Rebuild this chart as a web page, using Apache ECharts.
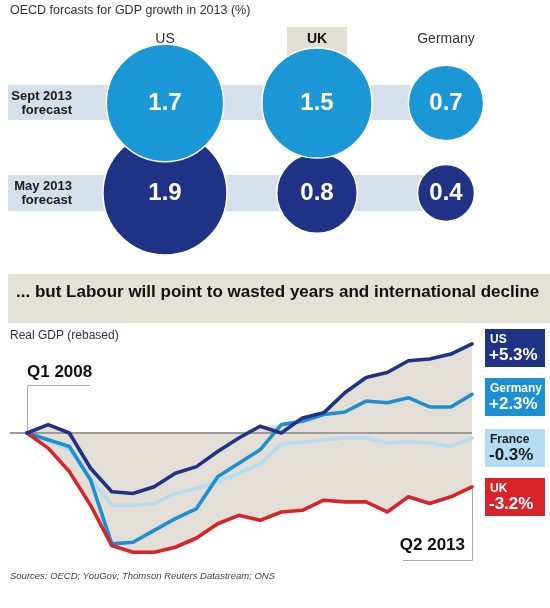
<!DOCTYPE html>
<html><head><meta charset="utf-8">
<script src="https://cdn.jsdelivr.net/npm/echarts@6/dist/echarts.min.js"></script>
<style>html,body{margin:0;padding:0;background:#fff}#c{width:550px;height:608px}</style>
</head><body><div id="c"></div>
<script>
// ---------- data ----------
const countries = ['US', 'UK', 'Germany'];
const forecastRows = ['Sept 2013\nforecast', 'May 2013\nforecast'];
const septForecast = [1.7, 1.5, 0.7];
const mayForecast = [1.9, 0.8, 0.4];

const quarters = ['Q1 2008','Q2 2008','Q3 2008','Q4 2008','Q1 2009','Q2 2009','Q3 2009','Q4 2009',
  'Q1 2010','Q2 2010','Q3 2010','Q4 2010','Q1 2011','Q2 2011','Q3 2011','Q4 2011',
  'Q1 2012','Q2 2012','Q3 2012','Q4 2012','Q1 2013','Q2 2013'];
const gdpNames = ['US', 'Germany', 'France', 'UK'];
const usGDP      = [0, 0.5, 0.0, -2.1, -3.5, -3.6, -3.2, -2.4, -2.0, -1.1, -0.3, 0.4, 0.0, 0.9, 1.2, 2.4, 3.3, 3.6, 4.3, 4.4, 4.7, 5.3];
const germanyGDP = [0, -0.4, -0.8, -2.8, -6.6, -6.5, -5.8, -5.1, -4.5, -2.6, -1.8, -1.0, 0.5, 0.7, 1.1, 1.25, 1.9, 1.8, 2.1, 1.55, 1.55, 2.3];
const franceGDP  = [0, -0.5, -1.0, -2.7, -4.3, -4.3, -4.2, -3.6, -3.3, -2.9, -2.4, -1.85, -0.65, -0.55, -0.4, -0.3, -0.3, -0.6, -0.5, -0.6, -0.8, -0.3];
const ukGDP      = [0, -0.9, -2.3, -4.3, -6.7, -7.1, -7.1, -6.8, -6.25, -5.4, -4.9, -5.2, -4.7, -4.6, -4.0, -4.1, -4.1, -4.7, -3.8, -4.2, -3.8, -3.2];

// ---------- styles ----------
const FONT = 'Liberation Sans, Arial, sans-serif';
const SEPT_COLOR = '#1b97d6', MAY_COLOR = '#1f3286';
const gdpSeries = [usGDP, germanyGDP, franceGDP, ukGDP];
const gdpColors = ['#1f3286', '#1b8fd2', '#b4dcf2', '#d8232a'];
const boxText = ['#ffffff', '#ffffff', '#1a1a1a', '#ffffff'];
const boxTops = [329, 378, 429, 478];
const colCenters = [165, 317, 446];

const chart = echarts.init(document.getElementById('c'), null, {renderer: 'canvas'});

const grids = [], xAxes = [], yAxes = [], series = [];
countries.forEach((c, i) => {
  grids.push({left: colCenters[i] - 60, width: 120, top: 58, height: 180});
  xAxes.push({
    type: 'category', gridIndex: i, data: [c], position: 'top',
    axisLine: {show: false}, axisTick: {show: false}, splitLine: {show: false},
    axisLabel: {
      margin: 8, interval: 0,
      formatter: v => (v === 'UK' ? '{uk|' + v + '}' : '{n|' + v + '}'),
      rich: {
        uk: {fontFamily: FONT, fontSize: 14, fontWeight: 'bold', color: '#111', lineHeight: 16,
             backgroundColor: '#e2ded4', padding: [5, 20, 11, 20]},
        n: {fontFamily: FONT, fontSize: 14, color: '#333', lineHeight: 16, padding: [5, 20, 11, 20]}
      }
    }
  });
  yAxes.push({
    type: 'category', gridIndex: i, data: forecastRows, inverse: true,
    axisLine: {show: false}, axisTick: {show: false}, splitLine: {show: false},
    axisLabel: {show: i === 0, margin: 33, fontFamily: FONT, fontSize: 13, fontWeight: 'bold',
                color: '#1a1a1a', lineHeight: 14, align: 'right'}
  });
  [[mayForecast, forecastRows[1], MAY_COLOR], [septForecast, forecastRows[0], SEPT_COLOR]].forEach(([arr, row, col]) => {
    series.push({
      type: 'scatter', xAxisIndex: i, yAxisIndex: i, z: 3,
      data: [[c, row, arr[i]]],
      symbolSize: v => 90 * Math.sqrt(v[2]),
      itemStyle: {color: col, opacity: 1, borderColor: '#ffffff', borderWidth: 1.5},
      label: {show: true, position: 'inside', formatter: p => p.value[2].toFixed(1),
              fontFamily: FONT, fontSize: 24, fontWeight: 'bold', color: '#fff'},
      emphasis: {disabled: true}, silent: true
    });
  });
});

// bottom chart grid
grids.push({left: 27, right: 78, top: 332.2, height: 235.2});
xAxes.push({type: 'category', gridIndex: 3, data: quarters, boundaryGap: false, show: false});
yAxes.push({type: 'value', gridIndex: 3, min: -8, max: 6, show: false});

const lowEnv = quarters.map((_, i) => Math.min(...gdpSeries.map(s => s[i])));
const highEnv = quarters.map((_, i) => Math.max(0, ...gdpSeries.map(s => s[i])));

series.push({
  type: 'line', xAxisIndex: 3, yAxisIndex: 3, stack: 'env', stackStrategy: 'all',
  data: lowEnv, symbol: 'none', lineStyle: {opacity: 0}, silent: true, z: 1
});
series.push({
  type: 'line', xAxisIndex: 3, yAxisIndex: 3, stack: 'env', stackStrategy: 'all',
  data: highEnv.map((h, i) => h - lowEnv[i]), symbol: 'none', lineStyle: {opacity: 0},
  areaStyle: {color: '#e3dfd6', opacity: 1}, silent: true, z: 1
});
// zero line
series.push({
  type: 'line', xAxisIndex: 3, yAxisIndex: 3, data: [], z: 2, silent: true,
  markLine: {
    silent: true, symbol: 'none', z: 2, label: {show: false},
    lineStyle: {color: '#9b9b9b', width: 2, type: 'solid'},
    data: [[{x: 10, xAxis: quarters[0], yAxis: 0}, {xAxis: quarters[quarters.length - 1], yAxis: 0}]]
  }
});
// GDP lines (France, Germany, UK, US drawing order)
[2, 1, 3, 0].forEach((k, j) => {
  series.push({
    name: gdpNames[k], type: 'line', xAxisIndex: 3, yAxisIndex: 3,
    data: gdpSeries[k], symbol: 'none', z: 3 + j,
    lineStyle: {color: gdpColors[k], width: 3.6, join: 'round', cap: 'round'},
    silent: true
  });
});

// ---------- graphics (decoration / text) ----------
const fmtPct = v => (v > 0 ? '+' : '') + v.toFixed(1) + '%';
const graphics = [
  {type: 'rect', shape: {x: 8, y: 85, width: 405, height: 35}, style: {fill: '#d4e1ea'}, z: -1},
  {type: 'rect', shape: {x: 8, y: 175, width: 420, height: 36}, style: {fill: '#d4e1ea'}, z: -1},
  {type: 'text', x: 10, y: 11, style: {text: 'OECD forcasts for GDP growth in 2013 (%)', font: '12.5px ' + FONT, fill: '#333', verticalAlign: 'middle'}},
  {type: 'rect', shape: {x: 8, y: 274, width: 542, height: 49}, style: {fill: '#e4e1d9'}},
  {type: 'text', x: 16, y: 292, style: {text: '... but Labour will point to wasted years and international decline', font: 'bold 17px ' + FONT, fill: '#111', verticalAlign: 'middle'}},
  {type: 'text', x: 10, y: 336, style: {text: 'Real GDP (rebased)', font: '12px ' + FONT, fill: '#333', verticalAlign: 'middle'}},
  // Q1 2008 marker
  {type: 'polyline', shape: {points: [[90, 385.5], [27.5, 385.5], [27.5, 433]]}, style: {stroke: '#aaaaaa', lineWidth: 1, fill: null}},
  {type: 'text', x: 27, y: 372, style: {text: 'Q1 2008', font: 'bold 17px ' + FONT, fill: '#111', verticalAlign: 'middle'}},
  // Q2 2013 marker
  {type: 'polyline', shape: {points: [[472.5, 486], [472.5, 560.5], [403, 560.5]]}, style: {stroke: '#aaaaaa', lineWidth: 1, fill: null}},
  {type: 'text', x: 465, y: 545, style: {text: 'Q2 2013', font: 'bold 17px ' + FONT, fill: '#111', verticalAlign: 'middle', align: 'right'}},
  {type: 'text', x: 10, y: 576, style: {text: 'Sources: OECD; YouGov; Thomson Reuters Datastream; ONS', font: 'italic 9.5px ' + FONT, fill: '#444', verticalAlign: 'middle'}}
];
gdpNames.forEach((n, k) => {
  const top = boxTops[k];
  const s = gdpSeries[k];
  graphics.push({type: 'rect', shape: {x: 485, y: top, width: 60, height: 38}, style: {fill: gdpColors[k]}});
  graphics.push({type: 'text', x: 490, y: top + 10.5, style: {text: n, font: 'bold 12px ' + FONT, fill: boxText[k], verticalAlign: 'middle'}});
  graphics.push({type: 'text', x: 489, y: top + 26, style: {text: fmtPct(s[s.length - 1]), font: 'bold 17px ' + FONT, fill: boxText[k], verticalAlign: 'middle'}});
});

chart.setOption({
  animation: false,
  backgroundColor: '#ffffff',
  grid: grids, xAxis: xAxes, yAxis: yAxes, series: series,
  graphic: {elements: graphics}
});
</script></body></html>
